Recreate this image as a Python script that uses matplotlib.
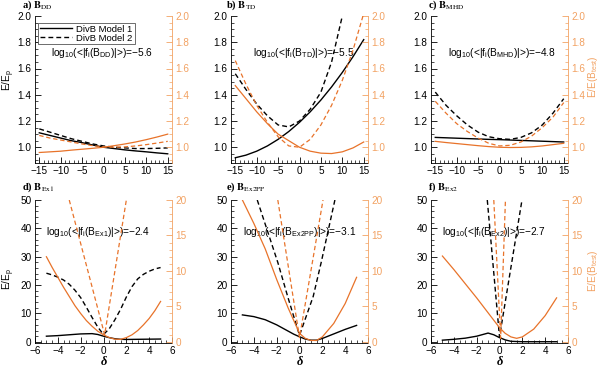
import numpy as np
import matplotlib
matplotlib.use('Agg')
import matplotlib.pyplot as plt
from matplotlib.ticker import MultipleLocator, AutoMinorLocator

plt.rcParams['font.family'] = 'Liberation Sans'
plt.rcParams['mathtext.fontset'] = 'custom'
plt.rcParams['mathtext.rm'] = 'Liberation Sans'
plt.rcParams['mathtext.it'] = 'Liberation Sans:italic'
plt.rcParams['mathtext.bf'] = 'Liberation Sans:bold'

LARANJA = '#E8732A'        # curvas E/E(B_test)
LARANJA_EIXO = '#F2A263'   # eixo da direita

# ---- dados ----
# linha de cima: delta de -15 a 15
x_sup = [-15, -12.5, -10, -7.5, -5, -2.5, 0, 2.5, 5, 7.5, 10, 12.5, 15]

dd_m1 = [1.11, 1.09, 1.07, 1.05, 1.035, 1.017, 1.0, 0.99, 0.98, 0.972, 0.965, 0.957, 0.95]
dd_m2 = [1.14, 1.115, 1.09, 1.065, 1.045, 1.025, 1.01, 1.0, 0.995, 0.99, 0.99, 0.992, 0.995]
dd_t1 = [0.96, 0.965, 0.97, 0.978, 0.985, 0.992, 1.0, 1.012, 1.025, 1.04, 1.058, 1.078, 1.10]
dd_t2 = [1.09, 1.07, 1.055, 1.04, 1.025, 1.012, 1.003, 1.0, 1.003, 1.01, 1.02, 1.032, 1.045]

td_m1 = [0.92, 0.94, 0.97, 1.01, 1.06, 1.12, 1.19, 1.27, 1.36, 1.46, 1.57, 1.69, 1.82]
td_m2 = [1.56, 1.44, 1.33, 1.24, 1.17, 1.155, 1.2, 1.29, 1.42, 1.65, 2.0, 2.4, 2.9]
td_t1 = [1.47, 1.37, 1.27, 1.18, 1.10, 1.05, 1.0, 0.97, 0.955, 0.952, 0.965, 0.995, 1.04]
td_t2 = [1.66, 1.48, 1.32, 1.19, 1.08, 1.01, 1.0, 1.06, 1.17, 1.32, 1.51, 1.74, 2.02]

mhd_m1 = [1.075, 1.072, 1.069, 1.066, 1.063, 1.06, 1.058, 1.055, 1.052, 1.049, 1.046, 1.043, 1.04]
mhd_m2 = [1.42, 1.32, 1.24, 1.17, 1.115, 1.08, 1.065, 1.06, 1.075, 1.11, 1.17, 1.26, 1.37]
mhd_t1 = [1.045, 1.036, 1.028, 1.02, 1.012, 1.005, 1.0, 0.998, 0.999, 1.003, 1.01, 1.02, 1.03]
mhd_t2 = [1.35, 1.26, 1.18, 1.12, 1.07, 1.03, 1.01, 1.015, 1.04, 1.085, 1.15, 1.23, 1.34]

# linha de baixo: delta de -5 a 5
x_inf = [-5, -4.5, -4, -3.5, -3, -2.5, -2, -1.5, -1, -0.5, 0, 0.5, 1, 1.5, 2, 2.5, 3, 3.5, 4, 4.5, 5]

ex1_x1 = [-5, -4, -3, -2, -1, -0.5, 0, 0.5, 1, 1.5, 2, 3, 4, 5]
ex1_m1 = [2.0, 2.2, 2.5, 2.8, 2.9, 2.6, 2.0, 1.5, 1.1, 0.9, 0.85, 0.9, 0.95, 1.0]
ex1_m2 = [24.2, 23.6, 22.8, 21.8, 20.3, 18.2, 15.6, 12.2, 8.6, 5.2, 2.6, 4.6, 7.8, 11.5,
          15.8, 19.5, 22.2, 23.8, 24.9, 25.7, 26.2]
ex1_t1 = [12.0, 10.5, 9.1, 7.7, 6.4, 5.1, 4.0, 3.0, 2.2, 1.5, 1.0, 0.6, 0.38, 0.35,
          0.6, 1.0, 1.6, 2.4, 3.3, 4.4, 5.7]
ex1_x2 = [-3.0, 0.1, 2.0]
ex1_t2 = [20.0, 1.0, 20.0]

ex2pp_x1 = [-5, -4, -3, -2, -1, -0.5, 0, 0.5, 1, 1.5, 2, 3, 4, 5]
ex2pp_m1 = [9.5, 8.9, 7.8, 6.0, 3.8, 2.7, 1.8, 1.0, 0.6, 0.6, 1.2, 2.8, 4.4, 5.8]
ex2pp_xm2 = [-3.7, -2.8, -1.9, -1.0, 0, 1.2, 1.9, 3.1]
ex2pp_m2 = [50, 39, 28, 15.5, 2.3, 16, 28, 50]
ex2pp_xt1 = [-5, -4, -3, -2, -1, 0, 0.5, 1, 1.5, 2, 3, 4, 5]
ex2pp_t1 = [20, 16.7, 13.1, 8.8, 4.8, 1.2, 0.5, 0.2, 0.2, 0.7, 2.6, 5.4, 9.1]
ex2pp_xt2 = [-1.9, 0, 2.06]
ex2pp_t2 = [20, 0.6, 20]

ex2_x1 = [-5, -4, -3, -2, -1, -0.5, 0, 0.5, 1, 2, 3, 4, 5]
ex2_m1 = [0.6, 0.9, 1.3, 2.0, 3.1, 2.5, 1.5, 0.7, 0.2, 0.05, 0.05, 0.05, 0.05]
ex2_xm2 = [-1.07, 0, 1.97]
ex2_m2 = [50, 1.7, 50]
ex2_xt1 = [-5, -4, -3, -2, -1, 0, 0.5, 1, 1.5, 2, 3, 4, 5]
ex2_t1 = [12.1, 10.2, 8.2, 6.2, 4.1, 2.0, 1.2, 0.7, 0.5, 0.7, 1.8, 3.7, 6.2]
ex2_xt2 = [-0.5, 0.1, 0.52]
ex2_t2 = [20, 0.5, 20]

titulos = ['a) ', 'b) ', 'c) ', 'd) ', 'e) ', 'f) ']
campos = ['DD', 'TD', 'MHD', 'Ex1', 'Ex2PP', 'Ex2']
log_f = ['\u22125.6', '\u22125.5', '\u22124.8', '\u22122.4', '\u22123.1', '\u22122.7']

paineis = [
    (x_sup, dd_m1, x_sup, dd_m2, x_sup, dd_t1, x_sup, dd_t2),
    (x_sup, td_m1, x_sup, td_m2, x_sup, td_t1, x_sup, td_t2),
    (x_sup, mhd_m1, x_sup, mhd_m2, x_sup, mhd_t1, x_sup, mhd_t2),
    (ex1_x1, ex1_m1, x_inf, ex1_m2, x_inf, ex1_t1, ex1_x2, ex1_t2),
    (ex2pp_x1, ex2pp_m1, ex2pp_xm2, ex2pp_m2, ex2pp_xt1, ex2pp_t1, ex2pp_xt2, ex2pp_t2),
    (ex2_x1, ex2_m1, ex2_xm2, ex2_m2, ex2_xt1, ex2_t1, ex2_xt2, ex2_t2),
]

# ---- figura ----
W, H = 600, 371
fig = plt.figure(figsize=(6.0, 3.71), dpi=100)

esquerdas = [35, 231, 431]   # pixels
largura = 137
linhas_px = [(16, 163), (200, 343)]
pos_texto = [0.49, 0.53, 0.52, 0.46, 0.50, 0.46]
tit_x = [22, 226, 428]
tit_y = [8, 190]   # linha de base do título
tracejado = (0, (3.5, 2.2))

for i in range(6):
    lin, col = divmod(i, 3)
    topo, base = linhas_px[lin]
    ax = fig.add_axes([esquerdas[col] / W, 1 - base / H, largura / W, (base - topo) / H])
    ax2 = ax.twinx()
    xa, ya, xb, yb, xc, yc, xd, yd = paineis[i]

    l1, = ax.plot(xa, ya, color='k', lw=1.0)
    l2, = ax.plot(xb, yb, color='k', lw=1.0, ls=tracejado)
    ax2.plot(xc, yc, color=LARANJA, lw=0.9)
    ax2.plot(xd, yd, color=LARANJA, lw=0.9, ls=tracejado)

    if lin == 0:
        ax.set_xlim(-16, 16)
        ax.set_ylim(0.88, 2.0)
        ax2.set_ylim(0.88, 2.0)
        ax.xaxis.set_major_locator(MultipleLocator(5))
        ax.xaxis.set_minor_locator(AutoMinorLocator(5))
        for a in (ax, ax2):
            a.yaxis.set_major_locator(MultipleLocator(0.2))
            a.yaxis.set_minor_locator(AutoMinorLocator(4))
            a.yaxis.set_major_formatter(matplotlib.ticker.FormatStrFormatter('%.1f'))
    else:
        ax.set_xlim(-6, 6)
        ax.set_ylim(-0.4, 50)
        ax2.set_ylim(-0.16, 20)
        ax.xaxis.set_major_locator(MultipleLocator(2))
        ax.xaxis.set_minor_locator(AutoMinorLocator(4))
        ax.yaxis.set_major_locator(MultipleLocator(10))
        ax.yaxis.set_minor_locator(AutoMinorLocator(5))
        ax2.yaxis.set_major_locator(MultipleLocator(5))
        ax2.yaxis.set_minor_locator(AutoMinorLocator(5))
        fig.text((esquerdas[col] + largura / 2) / W, 1 - 362 / H, '\u03b4',
                 family='Liberation Serif', style='italic', weight='bold',
                 fontsize=9, ha='center', va='center')

    # estilo dos eixos (tipo IDL)
    for a in (ax, ax2):
        a.spines['top'].set_visible(False)
    ax.spines['right'].set_visible(False)
    ax2.spines['left'].set_visible(False)
    ax2.spines['bottom'].set_visible(False)
    ax2.spines['right'].set_color(LARANJA_EIXO)
    ax.tick_params(axis='both', which='major', direction='in', length=4.5, width=0.6,
                   labelsize=7.2, pad=2.5, top=False, right=False)
    ax.tick_params(axis='both', which='minor', direction='in', length=2.2, width=0.5,
                   top=False, right=False)
    ax2.tick_params(axis='y', which='major', direction='in', length=4.5, width=0.6,
                    labelsize=7.2, pad=2.5, colors=LARANJA_EIXO)
    ax2.tick_params(axis='y', which='minor', direction='in', length=2.2, width=0.5,
                    colors=LARANJA_EIXO)
    for s in ('left', 'bottom'):
        ax.spines[s].set_linewidth(0.6)
    ax2.spines['right'].set_linewidth(0.6)

    txt = 'log$_{10}$(<|f$_{\\rm i}$(B$_{\\rm ' + campos[i] + '}$)|>)=' + log_f[i]
    ax.text(pos_texto[i], 0.75 if lin == 0 else 0.776, txt, transform=ax.transAxes,
            ha='center', va='center', fontsize=7.3, zorder=5)

    fig.text(tit_x[col] / W, 1 - tit_y[lin] / H,
             titulos[i] + '$\\mathbf{B}_{\\mathrm{' + campos[i] + '}}$',
             family='Liberation Serif', weight='bold', fontsize=7.6,
             math_fontfamily='stix', ha='left', va='baseline')

    if i == 0:
        leg = ax.legend([l1, l2], ['DivB Model 1', 'DivB Model 2'], loc='upper left',
                        bbox_to_anchor=(0.02, 0.955), fontsize=6.8, fancybox=False,
                        framealpha=1, edgecolor='#555555', handlelength=3.4,
                        borderpad=0.2, labelspacing=0.0, handletextpad=0.5,
                        borderaxespad=0.0)
        leg.get_frame().set_linewidth(0.6)

# rótulos dos eixos y
for yc in (80, 279):
    fig.text(9 / W, 1 - yc / H, 'E/E$_{\\rm p}$', rotation=90, fontsize=7.2,
             ha='center', va='center')
for yc in (77, 271):
    fig.text(593 / W, 1 - yc / H, 'E/E(B$_{\\rm test}$)', rotation=90, fontsize=7.2,
             color=LARANJA_EIXO, ha='center', va='center')

fig.savefig('out.png', dpi=100)
